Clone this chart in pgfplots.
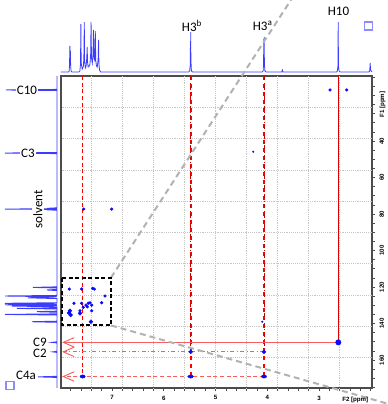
\documentclass[border=0pt]{standalone}
\usepackage{pgfplots}
\pgfplotsset{compat=1.18}
\usepackage{fontspec}
\setmainfont{Carlito}
\newfontfamily\tickf{Liberation Sans}
\definecolor{specblue}{RGB}{60,60,255}
\definecolor{lblue}{RGB}{140,140,255}
\definecolor{pkblue}{RGB}{10,10,250}
\definecolor{lred}{RGB}{245,95,95}
\definecolor{zgray}{RGB}{178,178,178}
\def\pxu{0.75pt}
\newcommand\lab{\fontsize{9.75}{11}\selectfont}
\newcommand\tk{\tickf\bfseries\fontsize{4.6}{5}\selectfont}
\begin{document}
\begin{tikzpicture}
\useasboundingbox (0,0) rectangle (388*\pxu,-404*\pxu);
% ---------------- top 1H spectrum
\begin{axis}[at={(61*\pxu,-74*\pxu)}, anchor=south west, width=311*\pxu, height=66*\pxu, scale only axis,
  xmin=1.976, xmax=7.985, x dir=reverse, ymin=-2, ymax=64, hide axis, clip=false]
\addplot[specblue, line width=0.6pt] coordinates {
(7.985,0)(7.84,0)(7.826,1)(7.819,10)(7.814,26)(7.809,9)(7.804,21)(7.798,5)(7.79,1)(7.775,0)
(7.64,0)(7.62,1)(7.608,8)(7.601,48)(7.595,9)(7.575,3)(7.55,6)(7.541,20)(7.535,50)(7.529,12)(7.515,4)(7.50,6)(7.487,14)(7.479,25)(7.472,10)(7.46,5)(7.44,6)(7.425,8)(7.412,18)(7.404,50)(7.396,14)(7.38,9)(7.366,18)(7.358,42)(7.349,14)(7.335,12)(7.322,41)(7.314,12)(7.30,6)(7.285,5)(7.268,12)(7.259,32)(7.252,8)(7.24,2)(7.22,0)
(5.52,0)(5.50,1)(5.489,6)(5.485,24)(5.482,10)(5.479,40)(5.475,12)(5.465,1)(5.44,0)
(4.10,0)(4.08,1)(4.071,8)(4.067,33)(4.063,20)(4.059,35)(4.055,8)(4.045,1)(4.02,0)
(3.72,0)(3.707,2)(3.695,0)
(2.66,0)(2.645,1)(2.634,6)(2.629,50)(2.624,6)(2.612,1)(2.59,0)
(2.04,0)(2.02,1)(2.011,9)(2.004,2)(1.99,1)(1.976,0)};
\node[font=\lab] at (axis cs:5.454,46) {H3\textsuperscript{b}};
\node[font=\lab] at (axis cs:4.088,46) {H3\textsuperscript{a}};
\node[font=\lab] at (axis cs:2.623,60.7) {H10};
\node[draw=lblue, line width=0.8pt, minimum size=8*\pxu, inner sep=0pt] at (axis cs:2.043,46) {};
\end{axis}
% ---------------- left 13C spectrum
\begin{axis}[at={(57*\pxu,-76*\pxu)}, anchor=north east, width=54*\pxu, height=312*\pxu, scale only axis,
  xmin=0, xmax=54, x dir=reverse, ymin=4.4, ymax=175.3, y dir=reverse, hide axis, clip=false]
\addplot[specblue, line width=0.7pt] coordinates {
(0,4.4)(0,11.75)(51,12.05)(0,12.35)
(0,46.3)(52,46.6)(0,46.9)
(0,76.6)(10,76.9)(0,77.05)(52,77.3)(0,77.5)(10,77.7)(0,77.9)
(0,119.9)(24,120.2)(0,120.5)
(0,121.3)(10,121.6)(0,121.9)
(0,124.6)(52,124.9)(0,125.3)(29,125.9)(0,126.3)
(0,128.6)(52,128.9)(0,129.3)(52,129.7)(0,130.05)(45,130.4)(0,130.8)
(0,131.4)(40,131.7)(0,132.0)
(0,133.2)(20,133.5)(0,133.8)
(0,134.7)(52,135.0)(0,135.3)
(0,138.7)(25,139.0)(0,139.3)
(0,150.0)(5,150.3)(0,150.6)
(0,155.2)(4,155.5)(0,155.8)
(0,168.9)(19,169.2)(0,169.5)
(0,175.3)};
\node[font=\lab, fill=white, inner sep=1pt] at (axis cs:30,12.05) {C10};
\node[font=\lab, fill=white, inner sep=1pt] at (axis cs:29,46.6) {C3};
\node[font=\lab, fill=white, inner sep=1pt, rotate=90] at (axis cs:19,77.3) {solvent};
\node[font=\lab] at (axis cs:17,150.1) {C9};
\node[font=\lab] at (axis cs:17,156.2) {C2};
\node[font=\lab] at (axis cs:31,168.1) {C4a};
\node[draw=lblue, line width=0.8pt, minimum size=8*\pxu, inner sep=0pt] at (axis cs:47,174) {};
\end{axis}
% ---------------- main HMBC map
\begin{axis}[at={(61*\pxu,-76*\pxu)}, anchor=north west, width=311*\pxu, height=312*\pxu, scale only axis,
  xmin=1.976, xmax=7.985, x dir=reverse, ymin=4.4, ymax=175.3, y dir=reverse,
  xtick={3,4,5,6,7}, minor xtick={2.0,2.2,...,7.9},
  ytick={20,40,...,160}, yticklabels={F1 [ppm],40,60,80,100,120,140,160}, minor ytick={5,10,...,175},
  xtick pos=bottom, ytick pos=right, tick align=outside,
  major tick length=3*\pxu, minor tick length=3*\pxu,
  every tick/.style={draw=gray!60!black, line width=0.5pt},
  axis line style={draw=gray!60!black, line width=0.8pt},
  /pgf/number format/assume math mode=true,
  xticklabel style={font=\tk},
  yticklabel style={font=\tk, rotate=90, anchor=north},
  extra x ticks={2.6,3.2,3.8,4.4,5.0,5.6,6.2,6.8,7.4}, extra x tick labels={},
  extra x tick style={grid=major, major tick length=0pt},
  extra y ticks={21.7,38.8,55.9,73.0,90.1,107.2,124.3,141.4,158.5}, extra y tick labels={},
  extra y tick style={grid=major, major tick length=0pt},
  major grid style={densely dotted, gray!45, line width=0.5pt},
  clip=false]
% red correlation lines
\addplot[red, densely dashed, line width=0.7pt] coordinates {(7.566,4.4)(7.566,169)};
\addplot[red, dashed, line width=1.3pt] coordinates {(5.479,4.4)(5.479,169)};
\addplot[red!80!black, dashdotted, line width=0.6pt] coordinates {(5.479,4.4)(5.479,155.5)};
\addplot[red, dashed, line width=1.3pt] coordinates {(4.063,4.4)(4.063,169)};
\addplot[red!80!black, dashdotted, line width=0.6pt] coordinates {(4.063,4.4)(4.063,155.5)};
\addplot[red!85!black, line width=0.7pt] coordinates {(2.627,4.4)(2.627,150.3)};
\addplot[lred, line width=1pt] coordinates {(2.627,150.3)(7.94,150.3)};
\addplot[lred, dashdotted, line width=0.8pt] coordinates {(4.063,155.5)(7.94,155.5)};
\addplot[lred, densely dashed, line width=0.8pt] coordinates {(4.063,169)(7.94,169)};
\addplot[lred, line width=0.7pt] coordinates {(7.73,147.7)(7.94,150.3)(7.73,152.9)};
\addplot[lred, line width=0.7pt] coordinates {(7.73,152.9)(7.94,155.5)(7.73,158.1)};
\addplot[lred, line width=0.7pt] coordinates {(7.73,166.4)(7.94,169)(7.73,171.6)};
% zoom box and guide lines
\addplot[zgray, line width=1.5pt, dash pattern=on 6*\pxu off 4*\pxu] coordinates {(7.019,114.9)(3.541,-37.3)};
\addplot[zgray, line width=1.5pt, dash pattern=on 6*\pxu off 4*\pxu] coordinates {(7.019,141)(1.435,185.8)};
\addplot[black, line width=1.4pt, dash pattern=on 4*\pxu off 2.5*\pxu] coordinates {(7.96,114.9)(7.019,114.9)(7.019,141)(7.96,141)(7.96,114.9)};
% cross peaks
\addplot[only marks, mark=*, pkblue, mark size=0.5pt] coordinates {(4.27,45.9)(4.096,139.0)};
\addplot[only marks, mark=*, pkblue, mark size=1.0pt] coordinates {
(2.787,12.05)(2.465,12.05)(7.547,77.3)(7.006,77.3)
(7.825,121.1)(7.586,121.1)(7.373,120.7)(7.342,121.1)(7.135,124.9)
(7.734,128.9)(7.586,128.9)(7.502,129.9)(7.458,128.9)(7.425,128.6)(7.392,129.9)
(7.555,131.1)(7.477,130.8)(7.199,128.6)(7.392,133.0)(7.618,133.0)};
\addplot[only marks, mark=*, pkblue, mark size=1.4pt] coordinates {
(7.812,133.0)(7.831,134.1)(7.618,134.4)(7.798,135.3)(7.406,139.0)
(5.479,155.5)(4.063,155.5)};
\addplot[only marks, mark=*, pkblue, mark size=1.2pt, mark options={xscale=1.6}] coordinates {
(7.566,169.0)(5.479,169.0)(4.063,169.0)};
\addplot[only marks, mark=*, pkblue, mark size=2.0pt] coordinates {(2.627,150.3)};
\node[font=\tk, anchor=north] at (axis cs:2.30,175.3) [yshift=-3.5pt] {F2 [ppm]};
\end{axis}
\end{tikzpicture}
\end{document}
